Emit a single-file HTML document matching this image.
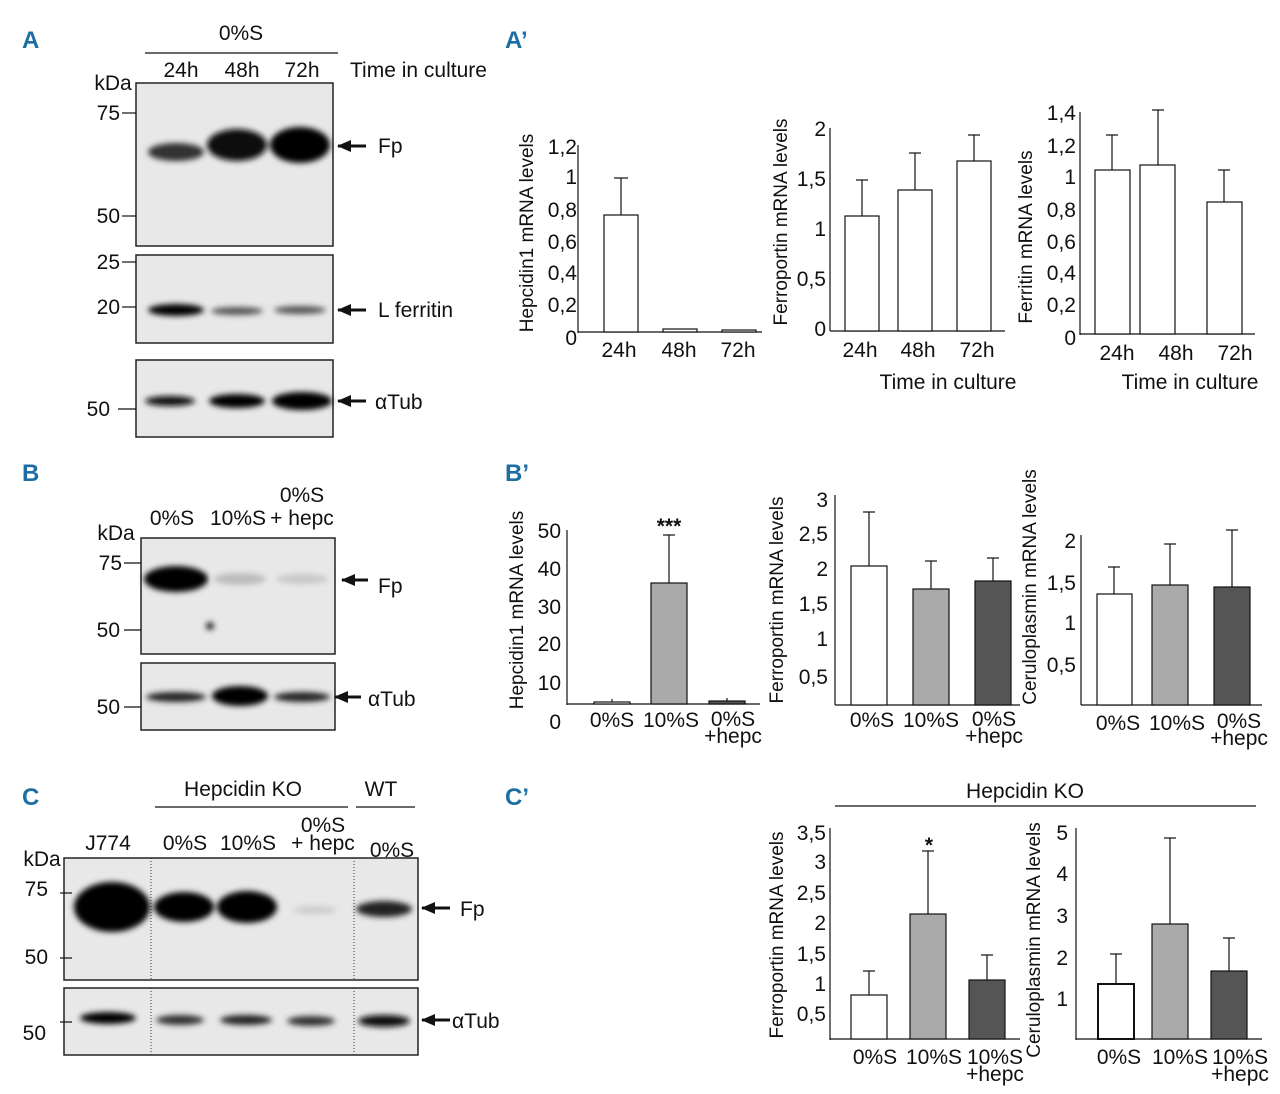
<!DOCTYPE html>
<html><head><meta charset="utf-8"><style>
body{margin:0;background:#fff}
svg{display:block}
text{font-family:"Liberation Sans Narrow","Liberation Sans",sans-serif;font-size:21px;fill:#111}
.t{text-anchor:middle}
.e{text-anchor:end}
.p{font-family:"Liberation Sans",sans-serif;font-weight:bold;font-size:24px;fill:#1d6fa3}
.ax{stroke:#111;stroke-width:1.2;fill:none}
.w{fill:#fff;stroke:#111;stroke-width:1.2}
.g{fill:#aaa;stroke:#111;stroke-width:1.2}
.d{fill:#555;stroke:#111;stroke-width:1.2}
.blot{fill:#e8e8e8;stroke:#222;stroke-width:1.5}
.yl{font-size:19px}
</style></head><body>
<svg width="1280" height="1094" viewBox="0 0 1280 1094">
<defs>
<filter id="b" x="-20%" y="-50%" width="140%" height="200%"><feGaussianBlur stdDeviation="3"/></filter>
<marker id="ar" markerUnits="userSpaceOnUse" markerWidth="14" markerHeight="12" refX="13" refY="6" orient="auto"><path d="M0,0 L14,6 L0,12 z" fill="#111"/></marker>
</defs>
<!-- Panel labels -->
<text class="p" x="22" y="48">A</text>
<text class="p" x="505" y="48">A’</text>
<text class="p" x="22" y="481">B</text>
<text class="p" x="505" y="481">B’</text>
<text class="p" x="22" y="805">C</text>
<text class="p" x="505" y="805">C’</text>

<!-- A blots -->
<text class="t" x="241" y="40">0%S</text>
<line x1="145" y1="53" x2="338" y2="53" class="ax"/>
<text class="t" x="181" y="77">24h</text><text class="t" x="242" y="77">48h</text><text class="t" x="302" y="77">72h</text>
<text x="350" y="77">Time in culture</text>
<text class="t" x="113" y="90">kDa</text>
<rect x="136" y="83" width="197" height="163" class="blot"/>
<g filter="url(#b)">
<ellipse cx="176" cy="152" rx="28" ry="9" fill="#333"/>
<ellipse cx="237" cy="145" rx="30" ry="16" fill="#111"/>
<ellipse cx="300" cy="145" rx="30" ry="18" fill="#000"/>
</g>
<text class="e" x="120" y="120">75</text><line x1="122" y1="113" x2="136" y2="113" class="ax"/>
<text class="e" x="120" y="223">50</text><line x1="122" y1="216" x2="136" y2="216" class="ax"/>
<rect x="136" y="255" width="197" height="88" class="blot"/>
<g filter="url(#b)">
<ellipse cx="176" cy="310" rx="28" ry="6" fill="#000"/>
<ellipse cx="237" cy="311" rx="26" ry="4" fill="#555"/>
<ellipse cx="300" cy="310" rx="26" ry="4" fill="#555"/>
</g>
<text class="e" x="120" y="269">25</text><line x1="122" y1="262" x2="136" y2="262" class="ax"/>
<text class="e" x="120" y="314">20</text><line x1="122" y1="307" x2="136" y2="307" class="ax"/>
<rect x="136" y="360" width="197" height="77" class="blot"/>
<g filter="url(#b)">
<ellipse cx="170" cy="401" rx="25" ry="5" fill="#111"/>
<ellipse cx="237" cy="401" rx="28" ry="7" fill="#000"/>
<ellipse cx="302" cy="401" rx="30" ry="9" fill="#000"/>
</g>
<text class="e" x="110" y="416">50</text><line x1="118" y1="409" x2="136" y2="409" class="ax"/>
<line x1="366" y1="146" x2="338" y2="146" stroke="#111" stroke-width="3" marker-end="url(#ar)"/><text x="378" y="153">Fp</text>
<line x1="366" y1="310" x2="338" y2="310" stroke="#111" stroke-width="3" marker-end="url(#ar)"/><text x="378" y="317">L ferritin</text>
<line x1="366" y1="401" x2="338" y2="401" stroke="#111" stroke-width="3" marker-end="url(#ar)"/><text x="375" y="409">αTub</text>

<!-- B blots -->
<text class="t" x="172" y="525">0%S</text><text class="t" x="238" y="525">10%S</text>
<text class="t" x="302" y="502">0%S</text><text class="t" x="302" y="525">+ hepc</text>
<text class="t" x="116" y="540">kDa</text>
<rect x="141" y="538" width="194" height="116" class="blot"/>
<g filter="url(#b)">
<ellipse cx="176" cy="579" rx="32" ry="13" fill="#000"/>
<ellipse cx="240" cy="579" rx="26" ry="6" fill="#bbb"/>
<ellipse cx="302" cy="579" rx="26" ry="5" fill="#c8c8c8"/>
<circle cx="210" cy="626" r="4" fill="#222"/>
</g>
<text class="e" x="122" y="570">75</text><line x1="124" y1="563" x2="141" y2="563" class="ax"/>
<text class="e" x="120" y="637">50</text><line x1="124" y1="630" x2="141" y2="630" class="ax"/>
<rect x="141" y="663" width="194" height="67" class="blot"/>
<g filter="url(#b)">
<ellipse cx="176" cy="697" rx="30" ry="5" fill="#222"/>
<ellipse cx="240" cy="696" rx="28" ry="10" fill="#000"/>
<ellipse cx="302" cy="697" rx="28" ry="5" fill="#222"/>
</g>
<text class="e" x="120" y="714">50</text><line x1="124" y1="707" x2="141" y2="707" class="ax"/>
<line x1="368" y1="580" x2="342" y2="580" stroke="#111" stroke-width="3" marker-end="url(#ar)"/><text x="378" y="593">Fp</text>
<line x1="361" y1="697" x2="335" y2="697" stroke="#111" stroke-width="3" marker-end="url(#ar)"/><text x="368" y="706">αTub</text>

<!-- C blots -->
<text class="t" x="108" y="850">J774</text>
<text class="t" x="243" y="796">Hepcidin KO</text><line x1="155" y1="807" x2="348" y2="807" class="ax"/>
<text class="t" x="381" y="796">WT</text><line x1="356" y1="807" x2="415" y2="807" class="ax"/>
<text class="t" x="185" y="850">0%S</text><text class="t" x="248" y="850">10%S</text>
<text class="t" x="323" y="832">0%S</text><text class="t" x="323" y="850">+ hepc</text>
<text class="t" x="392" y="857">0%S</text>
<text class="t" x="42" y="866">kDa</text>
<rect x="64" y="858" width="354" height="122" class="blot"/>
<g filter="url(#b)">
<ellipse cx="112" cy="907" rx="38" ry="25" fill="#000"/>
<ellipse cx="184" cy="907" rx="30" ry="15" fill="#000"/>
<ellipse cx="247" cy="907" rx="30" ry="16" fill="#000"/>
<ellipse cx="315" cy="910" rx="22" ry="4" fill="#ccc"/>
<ellipse cx="384" cy="909" rx="28" ry="8" fill="#222"/>
</g>
<line x1="151" y1="858" x2="151" y2="980" stroke="#333" stroke-dasharray="1,2"/>
<line x1="354" y1="858" x2="354" y2="980" stroke="#333" stroke-dasharray="1,2"/>
<text class="e" x="48" y="896">75</text><line x1="60" y1="893" x2="72" y2="893" class="ax"/>
<text class="e" x="48" y="964">50</text><line x1="60" y1="958" x2="72" y2="958" class="ax"/>
<rect x="64" y="988" width="354" height="67" class="blot"/>
<g filter="url(#b)">
<ellipse cx="108" cy="1018" rx="28" ry="6" fill="#000"/>
<ellipse cx="180" cy="1020" rx="24" ry="5" fill="#333"/>
<ellipse cx="246" cy="1020" rx="26" ry="5" fill="#222"/>
<ellipse cx="311" cy="1021" rx="24" ry="5" fill="#333"/>
<ellipse cx="384" cy="1021" rx="26" ry="6" fill="#111"/>
</g>
<line x1="151" y1="988" x2="151" y2="1055" stroke="#333" stroke-dasharray="1,2"/>
<line x1="354" y1="988" x2="354" y2="1055" stroke="#333" stroke-dasharray="1,2"/>
<text class="e" x="46" y="1040">50</text><line x1="60" y1="1022" x2="72" y2="1022" class="ax"/>
<line x1="450" y1="908" x2="422" y2="908" stroke="#111" stroke-width="3" marker-end="url(#ar)"/><text x="460" y="916">Fp</text>
<line x1="450" y1="1020" x2="422" y2="1020" stroke="#111" stroke-width="3" marker-end="url(#ar)"/><text x="452" y="1028">αTub</text>

<!-- A' chart 1 -->
<g>
<line x1="578" y1="145" x2="578" y2="333" class="ax"/><line x1="578" y1="332" x2="762" y2="332" class="ax"/>
<text class="e" x="577" y="154">1,2</text><text class="e" x="577" y="184">1</text><text class="e" x="577" y="217">0,8</text><text class="e" x="577" y="249">0,6</text><text class="e" x="577" y="280">0,4</text><text class="e" x="577" y="312">0,2</text><text class="e" x="577" y="345">0</text>
<rect x="604" y="215" width="34" height="117" class="w"/><line x1="621" y1="215" x2="621" y2="178" class="ax"/><line x1="614" y1="178" x2="628" y2="178" class="ax"/>
<rect x="663" y="329" width="34" height="3" class="w"/>
<rect x="722" y="330" width="34" height="2" class="w"/>
<text class="t" x="619" y="357">24h</text><text class="t" x="679" y="357">48h</text><text class="t" x="738" y="357">72h</text>
<text class="t yl" transform="translate(533,233) rotate(-90)">Hepcidin1 mRNA levels</text>
</g>
<!-- A' chart 2 -->
<g>
<line x1="830" y1="128" x2="830" y2="331" class="ax"/><line x1="830" y1="331" x2="1005" y2="331" class="ax"/>
<text class="e" x="826" y="136">2</text><text class="e" x="826" y="186">1,5</text><text class="e" x="826" y="236">1</text><text class="e" x="826" y="286">0,5</text><text class="e" x="826" y="336">0</text>
<rect x="845" y="216" width="34" height="115" class="w"/><line x1="862" y1="216" x2="862" y2="180" class="ax"/><line x1="856" y1="180" x2="868" y2="180" class="ax"/>
<rect x="898" y="190" width="34" height="141" class="w"/><line x1="915" y1="190" x2="915" y2="153" class="ax"/><line x1="909" y1="153" x2="921" y2="153" class="ax"/>
<rect x="957" y="161" width="34" height="170" class="w"/><line x1="974" y1="161" x2="974" y2="135" class="ax"/><line x1="968" y1="135" x2="980" y2="135" class="ax"/>
<text class="t" x="860" y="357">24h</text><text class="t" x="918" y="357">48h</text><text class="t" x="977" y="357">72h</text>
<text class="t" x="948" y="389">Time in culture</text>
<text class="t yl" transform="translate(787,222) rotate(-90)">Ferroportin mRNA levels</text>
</g>
<!-- A' chart 3 -->
<g>
<line x1="1080" y1="112" x2="1080" y2="335" class="ax"/><line x1="1080" y1="334" x2="1255" y2="334" class="ax"/>
<text class="e" x="1076" y="120">1,4</text><text class="e" x="1076" y="153">1,2</text><text class="e" x="1076" y="184">1</text><text class="e" x="1076" y="217">0,8</text><text class="e" x="1076" y="249">0,6</text><text class="e" x="1076" y="280">0,4</text><text class="e" x="1076" y="312">0,2</text><text class="e" x="1076" y="345">0</text>
<rect x="1095" y="170" width="35" height="164" class="w"/><line x1="1112" y1="170" x2="1112" y2="135" class="ax"/><line x1="1106" y1="135" x2="1118" y2="135" class="ax"/>
<rect x="1140" y="165" width="35" height="169" class="w"/><line x1="1158" y1="165" x2="1158" y2="110" class="ax"/><line x1="1152" y1="110" x2="1164" y2="110" class="ax"/>
<rect x="1207" y="202" width="35" height="132" class="w"/><line x1="1224" y1="202" x2="1224" y2="170" class="ax"/><line x1="1218" y1="170" x2="1230" y2="170" class="ax"/>
<text class="t" x="1117" y="360">24h</text><text class="t" x="1176" y="360">48h</text><text class="t" x="1235" y="360">72h</text>
<text class="t" x="1190" y="389">Time in culture</text>
<text class="t yl" transform="translate(1032,237) rotate(-90)">Ferritin mRNA levels</text>
</g>

<!-- B' chart 1 -->
<g>
<line x1="567" y1="530" x2="567" y2="705" class="ax"/><line x1="567" y1="704" x2="760" y2="704" class="ax"/>
<text class="e" x="561" y="538">50</text><text class="e" x="561" y="576">40</text><text class="e" x="561" y="614">30</text><text class="e" x="561" y="651">20</text><text class="e" x="561" y="690">10</text><text class="e" x="561" y="729">0</text>
<rect x="594" y="702" width="36" height="2" class="w"/><line x1="612" y1="702" x2="612" y2="699" class="ax"/>
<rect x="651" y="583" width="36" height="121" class="g"/><line x1="669" y1="583" x2="669" y2="535" class="ax"/><line x1="663" y1="535" x2="675" y2="535" class="ax"/>
<text class="t" x="669" y="533" style="font-weight:bold">***</text>
<rect x="709" y="701" width="36" height="3" class="d"/><line x1="727" y1="701" x2="727" y2="698" class="ax"/>
<text class="t" x="612" y="727">0%S</text><text class="t" x="671" y="727">10%S</text>
<text class="t" x="733" y="726">0%S</text><text class="t" x="733" y="743">+hepc</text>
<text class="t yl" transform="translate(523,610) rotate(-90)">Hepcidin1 mRNA levels</text>
</g>
<!-- B' chart 2 -->
<g>
<line x1="835" y1="495" x2="835" y2="705" class="ax"/><line x1="835" y1="705" x2="1020" y2="705" class="ax"/>
<text class="e" x="828" y="507">3</text><text class="e" x="828" y="541">2,5</text><text class="e" x="828" y="576">2</text><text class="e" x="828" y="611">1,5</text><text class="e" x="828" y="646">1</text><text class="e" x="828" y="684">0,5</text>
<rect x="851" y="566" width="36" height="139" class="w"/><line x1="869" y1="566" x2="869" y2="512" class="ax"/><line x1="863" y1="512" x2="875" y2="512" class="ax"/>
<rect x="913" y="589" width="36" height="116" class="g"/><line x1="931" y1="589" x2="931" y2="561" class="ax"/><line x1="925" y1="561" x2="937" y2="561" class="ax"/>
<rect x="975" y="581" width="36" height="124" class="d"/><line x1="993" y1="581" x2="993" y2="558" class="ax"/><line x1="987" y1="558" x2="999" y2="558" class="ax"/>
<text class="t" x="872" y="727">0%S</text><text class="t" x="931" y="727">10%S</text>
<text class="t" x="994" y="726">0%S</text><text class="t" x="994" y="743">+hepc</text>
<text class="t yl" transform="translate(783,600) rotate(-90)">Ferroportin mRNA levels</text>
</g>
<!-- B' chart 3 -->
<g>
<line x1="1081" y1="535" x2="1081" y2="705" class="ax"/><line x1="1081" y1="705" x2="1262" y2="705" class="ax"/>
<text class="e" x="1076" y="548">2</text><text class="e" x="1076" y="590">1,5</text><text class="e" x="1076" y="630">1</text><text class="e" x="1076" y="672">0,5</text>
<rect x="1097" y="594" width="35" height="111" class="w"/><line x1="1114" y1="594" x2="1114" y2="567" class="ax"/><line x1="1108" y1="567" x2="1120" y2="567" class="ax"/>
<rect x="1152" y="585" width="36" height="120" class="g"/><line x1="1170" y1="585" x2="1170" y2="544" class="ax"/><line x1="1164" y1="544" x2="1176" y2="544" class="ax"/>
<rect x="1214" y="587" width="36" height="118" class="d"/><line x1="1232" y1="587" x2="1232" y2="530" class="ax"/><line x1="1226" y1="530" x2="1238" y2="530" class="ax"/>
<text class="t" x="1118" y="730">0%S</text><text class="t" x="1177" y="730">10%S</text>
<text class="t" x="1239" y="728">0%S</text><text class="t" x="1239" y="745">+hepc</text>
<text class="t yl" transform="translate(1036,587) rotate(-90)">Ceruloplasmin mRNA levels</text>
</g>

<!-- C' -->
<text class="t" x="1025" y="798">Hepcidin KO</text><line x1="835" y1="806" x2="1256" y2="806" class="ax"/>
<g>
<line x1="830" y1="828" x2="830" y2="1040" class="ax"/><line x1="830" y1="1039" x2="1020" y2="1039" class="ax"/>
<text class="e" x="826" y="840">3,5</text><text class="e" x="826" y="869">3</text><text class="e" x="826" y="900">2,5</text><text class="e" x="826" y="930">2</text><text class="e" x="826" y="961">1,5</text><text class="e" x="826" y="991">1</text><text class="e" x="826" y="1021">0,5</text>
<rect x="851" y="995" width="36" height="44" class="w"/><line x1="869" y1="995" x2="869" y2="971" class="ax"/><line x1="863" y1="971" x2="875" y2="971" class="ax"/>
<rect x="910" y="914" width="36" height="125" class="g"/><line x1="928" y1="914" x2="928" y2="851" class="ax"/><line x1="922" y1="851" x2="934" y2="851" class="ax"/>
<text class="t" x="929" y="852" style="font-weight:bold">*</text>
<rect x="969" y="980" width="36" height="59" class="d"/><line x1="987" y1="980" x2="987" y2="955" class="ax"/><line x1="981" y1="955" x2="993" y2="955" class="ax"/>
<text class="t" x="875" y="1064">0%S</text><text class="t" x="934" y="1064">10%S</text>
<text class="t" x="995" y="1064">10%S</text><text class="t" x="995" y="1081">+hepc</text>
<text class="t yl" transform="translate(783,935) rotate(-90)">Ferroportin mRNA levels</text>
</g>
<g>
<line x1="1076" y1="828" x2="1076" y2="1040" class="ax"/><line x1="1076" y1="1039" x2="1262" y2="1039" class="ax"/>
<text class="e" x="1068" y="840">5</text><text class="e" x="1068" y="881">4</text><text class="e" x="1068" y="923">3</text><text class="e" x="1068" y="965">2</text><text class="e" x="1068" y="1006">1</text>
<rect x="1098" y="984" width="36" height="55" class="w" style="stroke-width:2"/><line x1="1116" y1="984" x2="1116" y2="954" class="ax"/><line x1="1110" y1="954" x2="1122" y2="954" class="ax"/>
<rect x="1152" y="924" width="36" height="115" class="g"/><line x1="1170" y1="924" x2="1170" y2="838" class="ax"/><line x1="1164" y1="838" x2="1176" y2="838" class="ax"/>
<rect x="1211" y="971" width="36" height="68" class="d"/><line x1="1229" y1="971" x2="1229" y2="938" class="ax"/><line x1="1223" y1="938" x2="1235" y2="938" class="ax"/>
<text class="t" x="1119" y="1064">0%S</text><text class="t" x="1180" y="1064">10%S</text>
<text class="t" x="1240" y="1064">10%S</text><text class="t" x="1240" y="1081">+hepc</text>
<text class="t yl" transform="translate(1040,940) rotate(-90)">Ceruloplasmin mRNA levels</text>
</g>
</svg>
</body></html>
